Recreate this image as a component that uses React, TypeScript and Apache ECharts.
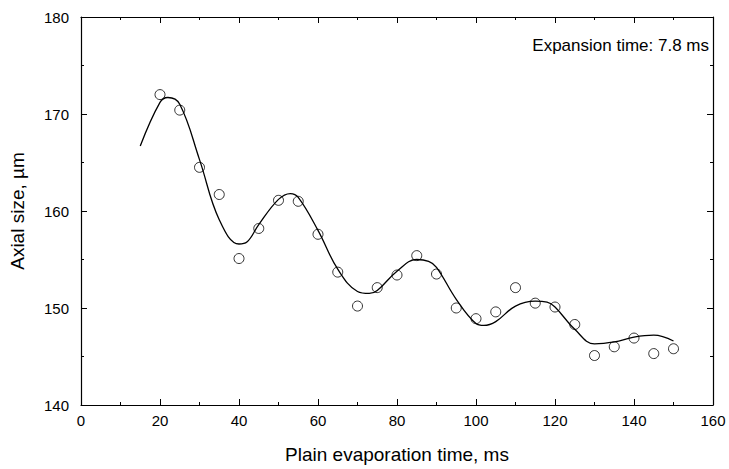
import * as echarts from "echarts";
import { useEffect, useRef } from "react";

const pointX = [20, 25, 30, 35, 40, 45, 50, 55, 60, 65, 70, 75, 80, 85, 90, 95, 100, 105, 110, 115, 120, 125, 130, 135, 140, 145, 150];
const pointY = [172.0, 170.4, 164.5, 161.7, 155.1, 158.2, 161.1, 161.0, 157.6, 153.7, 150.2, 152.1, 153.4, 155.4, 153.5, 150.0, 148.9, 149.6, 152.1, 150.5, 150.1, 148.3, 145.1, 146.0, 146.9, 145.3, 145.8];

const fitX = [15, 20, 22, 25, 30, 35, 40, 42, 45, 50, 53, 55, 60, 65, 70, 73, 75, 80, 85, 88, 90, 95, 100, 102, 105, 110, 115, 118, 120, 125, 130, 135, 140, 145, 150];
const fitY = [166.7, 171.2, 171.7, 171.0, 165.3, 159.1, 156.6, 156.8, 158.6, 161.2, 161.8, 161.4, 158.0, 154.0, 151.7, 151.5, 151.8, 153.8, 155.0, 154.8, 154.2, 150.9, 148.4, 148.2, 148.6, 150.2, 150.7, 150.6, 150.1, 147.8, 146.3, 146.5, 147.0, 147.2, 146.6];

const font = "Liberation Sans, Arial, sans-serif";

export default function App() {
  const ref = useRef<HTMLDivElement>(null);

  useEffect(() => {
    if (!ref.current) return;
    document.body.style.margin = "0";
    const chart = echarts.init(ref.current, undefined, { renderer: "svg" });
    const axisCommon = {
      axisLine: { show: true, onZero: false, lineStyle: { color: "#000", width: 1.2 } },
      axisTick: { show: true, inside: true, length: 6, lineStyle: { color: "#000" } },
      minorTick: { show: true, splitNumber: 2, length: 3, lineStyle: { color: "#000" } },
      splitLine: { show: false },
    };
    chart.setOption({
      animation: false,
      backgroundColor: "#fff",
      textStyle: { fontFamily: font },
      grid: { left: 80, right: 16, top: 17, bottom: 63 },
      xAxis: [
        {
          type: "value", min: 0, max: 160, interval: 20, ...axisCommon,
          axisLabel: { color: "#000", fontSize: 15, fontFamily: font, margin: 8 },
          name: "Plain evaporation time, ms", nameLocation: "middle", nameGap: 40,
          nameTextStyle: { color: "#000", fontSize: 19, fontFamily: font },
        },
        { type: "value", position: "top", min: 0, max: 160, interval: 20, ...axisCommon, axisLabel: { show: false } },
      ],
      yAxis: [
        {
          type: "value", min: 140, max: 180, interval: 10, ...axisCommon,
          axisLabel: { color: "#000", fontSize: 15, fontFamily: font, margin: 12 },
          name: "Axial size, µm", nameLocation: "middle", nameGap: 54,
          nameTextStyle: { color: "#000", fontSize: 19, fontFamily: font },
        },
        { type: "value", position: "right", min: 140, max: 180, interval: 10, ...axisCommon, axisLabel: { show: false } },
      ],
      series: [
        {
          type: "line", data: fitX.map((x, i) => [x, fitY[i]]), smooth: 0.4, showSymbol: false,
          lineStyle: { color: "#000", width: 1.3 },
        },
        {
          type: "scatter", data: pointX.map((x, i) => [x, pointY[i]]), symbol: "circle", symbolSize: 10,
          itemStyle: { color: "transparent", borderColor: "#000", borderWidth: 1 },
        },
      ],
      graphic: [
        { type: "text", right: 20, top: 37, style: { text: "Expansion time: 7.8 ms", fontSize: 17, fontFamily: font, fill: "#000" } },
      ],
    });
    return () => chart.dispose();
  }, []);

  return <div ref={ref} style={{ width: 729, height: 469 }} />;
}
